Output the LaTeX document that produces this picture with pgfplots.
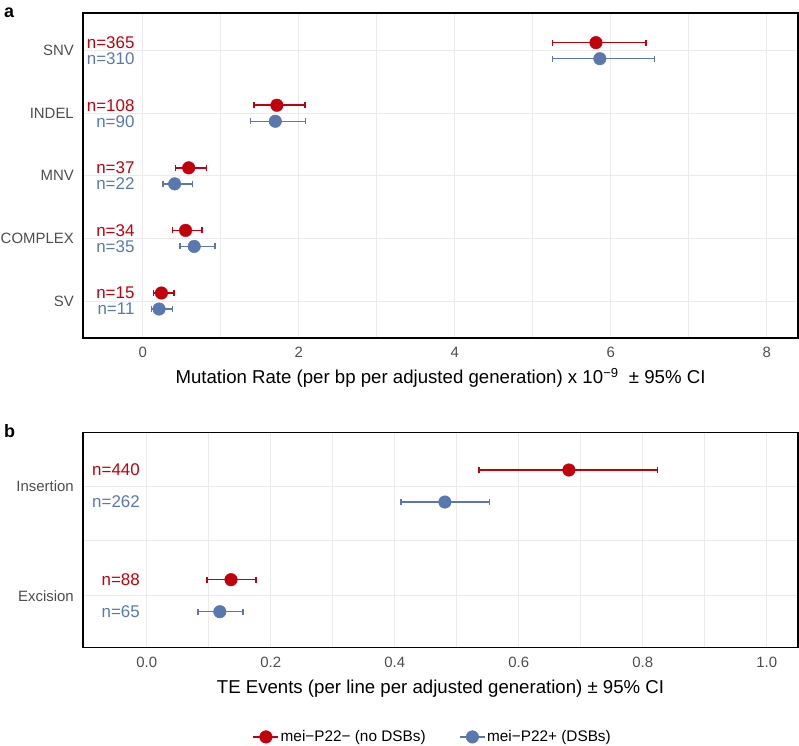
\documentclass[border=0pt]{standalone}
\usepackage{pgfplots}
\usepackage{pgfplotstable}
\pgfplotsset{compat=1.18}
\usepackage{fontspec}
\setmainfont{Liberation Sans}
\definecolor{cred}{RGB}{193,0,11}
\definecolor{cblue}{RGB}{91,120,174}
\definecolor{tickgray}{RGB}{77,77,77}
\definecolor{gridgray}{RGB}{235,235,235}

% panel a: y position (category + dodge), rate, minus, plus
\pgfplotstableread{
y x em ep
5.128 5.81 0.56 0.64
4.128 1.72 0.29 0.36
3.128 0.59 0.17 0.23
2.128 0.55 0.17 0.21
1.128 0.24 0.10 0.16
}\redA
\pgfplotstableread{
y x em ep
4.872 5.86 0.61 0.70
3.872 1.70 0.32 0.39
2.872 0.41 0.15 0.23
1.872 0.66 0.18 0.27
0.872 0.21 0.095 0.17
}\blueA
% panel b
\pgfplotstableread{
y x em ep
2.146 0.681 0.145 0.143
1.146 0.136 0.039 0.040
}\redB
\pgfplotstableread{
y x em ep
1.854 0.481 0.071 0.072
0.854 0.118 0.035 0.037
}\blueB

\pgfplotsset{
  panel/.style={
    scale only axis, width=715bp,
    axis line style={line width=1.4bp, black},
    major tick length=0pt, minor tick length=0pt,
    xmajorgrids, xminorgrids, ymajorgrids,
    major grid style={gridgray, line width=0.9bp},
    minor grid style={gridgray, line width=0.9bp},
    tick label style={font=\fontsize{15}{18}\selectfont, text=tickgray},
    xticklabel style={anchor=base, inner sep=0pt, yshift=-20bp},
    yticklabel style={anchor=east, inner sep=0pt, xshift=-9bp},
    xlabel style={font=\fontsize{18.7}{22}\selectfont, anchor=base, inner sep=0pt, yshift=-46bp},
    clip=false,
  },
  ser/.style={only marks, mark=*, mark size=6.3bp, color=#1,
    mark options={fill=#1, draw=#1},
    error bars/.cd, x dir=both, x explicit,
    error mark=|,
    error bar style={line width=1.5bp, draw=#1, solid},
    error mark options={draw=#1, line width=1.5bp, mark size=3bp},
    /pgfplots/.cd},
}
\tikzset{nlab/.style={anchor=east, inner sep=0pt, font=\fontsize{17}{20}\selectfont, text=#1}}

\begin{document}
\begin{tikzpicture}
\useasboundingbox (0,0) rectangle (799bp,746bp);

% ---------------- panel a ----------------
\begin{axis}[panel, at={(83bp,408bp)}, anchor=south west,
  height=325bp,
  xmin=-0.765, xmax=8.40, ymin=0.409, ymax=5.602,
  xtick={0,2,4,6,8}, xticklabels={0,2,4,6,8},
  minor x tick num=1,
  ytick={1,2,3,4,5}, yticklabels={SV,COMPLEX,MNV,INDEL,SNV},
  xlabel={Mutation Rate (per bp per adjusted generation) x 10\textsuperscript{−9}\ \ ± 95\% CI},
  xlabel style={at={(axis description cs:0.5,0)}},
]
\addplot[ser=cred] table[x=x, y=y, x error minus=em, x error plus=ep] {\redA};
\addplot[ser=cblue] table[x=x, y=y, x error minus=em, x error plus=ep] {\blueA};
\node[nlab=cred]  at (axis cs:-0.103,5.128) {n=365};
\node[nlab=cblue] at (axis cs:-0.103,4.872) {n=310};
\node[nlab=cred]  at (axis cs:-0.103,4.128) {n=108};
\node[nlab=cblue] at (axis cs:-0.103,3.872) {n=90};
\node[nlab=cred]  at (axis cs:-0.103,3.128) {n=37};
\node[nlab=cblue] at (axis cs:-0.103,2.872) {n=22};
\node[nlab=cred]  at (axis cs:-0.103,2.128) {n=34};
\node[nlab=cblue] at (axis cs:-0.103,1.872) {n=35};
\node[nlab=cred]  at (axis cs:-0.103,1.128) {n=15};
\node[nlab=cblue] at (axis cs:-0.103,0.872) {n=11};
\end{axis}

% ---------------- panel b ----------------
\begin{axis}[panel, at={(83bp,98.3bp)}, anchor=south west,
  height=215bp,
  xmin=-0.1027, xmax=1.0505, ymin=0.526, ymax=2.486,
  xtick={0,0.2,0.4,0.6,0.8,1.0}, xticklabels={0.0,0.2,0.4,0.6,0.8,1.0},
  minor x tick num=1,
  ytick={1,2}, yticklabels={Excision,Insertion},
  minor y tick num=1, yminorgrids,
  xlabel={TE Events (per line per adjusted generation) ± 95\% CI},
  xlabel style={at={(axis description cs:0.5,0)}},
  legend style={at={(axis description cs:0.4888,-0.415)}, anchor=center,
    draw=none, fill=none, font=\fontsize{15.4}{18}\selectfont,
    nodes={inner sep=1.5bp},
    /tikz/every even column/.append style={column sep=32bp}},
  legend columns=2, legend cell align=left,
]
\addlegendimage{legend image code/.code={\draw[cred,line width=1.5bp] (0bp,0bp)--(25bp,0bp); \fill[cred] (12.5bp,0bp) circle (6.3bp);}}
\addlegendentry{mei−P22− (no DSBs)}
\addlegendimage{legend image code/.code={\draw[cblue,line width=1.5bp] (0bp,0bp)--(25bp,0bp); \fill[cblue] (12.5bp,0bp) circle (6.3bp);}}
\addlegendentry{mei−P22+ (DSBs)}
\addplot[forget plot, ser=cred] table[x=x, y=y, x error minus=em, x error plus=ep] {\redB};
\addplot[forget plot, ser=cblue] table[x=x, y=y, x error minus=em, x error plus=ep] {\blueB};
\node[nlab=cred]  at (axis cs:-0.0108,2.146) {n=440};
\node[nlab=cblue] at (axis cs:-0.0108,1.854) {n=262};
\node[nlab=cred]  at (axis cs:-0.0108,1.146) {n=88};
\node[nlab=cblue] at (axis cs:-0.0108,0.854) {n=65};
\end{axis}

\node[anchor=base west, inner sep=0pt, font=\bfseries\fontsize{18}{20}\selectfont] at (4bp,728bp) {a};
\node[anchor=base west, inner sep=0pt, font=\bfseries\fontsize{18}{20}\selectfont] at (4bp,308bp) {b};
\end{tikzpicture}
\end{document}
